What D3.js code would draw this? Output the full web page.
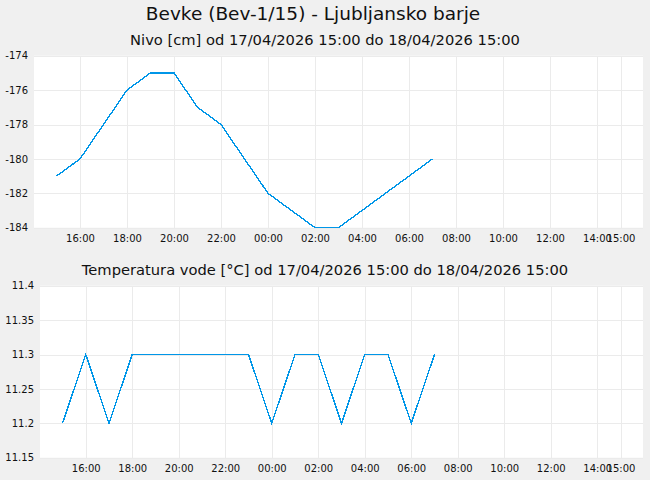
<!DOCTYPE html>
<html>
<head>
<meta charset="utf-8">
<script src="https://cdn.jsdelivr.net/npm/d3@7"></script>
<style>
  body { margin: 0; background: #f0f0f0; }
  text { font-family: "DejaVu Sans", sans-serif; fill: #111; }
</style>
</head>
<body>
<div id="chart"></div>
<script>
// hourly readings, 17/04/2026 15:00 .. 18/04/2026 07:00
const times = [
    "2026-04-17T15:00", "2026-04-17T16:00", "2026-04-17T17:00", "2026-04-17T18:00",
    "2026-04-17T19:00", "2026-04-17T20:00", "2026-04-17T21:00", "2026-04-17T22:00",
    "2026-04-17T23:00", "2026-04-18T00:00", "2026-04-18T01:00", "2026-04-18T02:00",
    "2026-04-18T03:00", "2026-04-18T04:00", "2026-04-18T05:00", "2026-04-18T06:00",
    "2026-04-18T07:00"
];
const nivo = [-181, -180, -178, -176, -175, -175, -177, -178, -180, -182, -183, -184, -184, -183, -182, -181, -180];
const temperatura = [11.2, 11.3, 11.2, 11.3, 11.3, 11.3, 11.3, 11.3, 11.3, 11.2, 11.3, 11.3, 11.2, 11.3, 11.3, 11.2, 11.3];

const xTickTimes = [
    "2026-04-17T16:00", "2026-04-17T18:00", "2026-04-17T20:00", "2026-04-17T22:00",
    "2026-04-18T00:00", "2026-04-18T02:00", "2026-04-18T04:00", "2026-04-18T06:00",
    "2026-04-18T08:00", "2026-04-18T10:00", "2026-04-18T12:00", "2026-04-18T14:00",
    "2026-04-18T15:00"
];
const nivoTicks = [-174, -176, -178, -180, -182, -184];
const nivoTickLabels = ["-174", "-176", "-178", "-180", "-182", "-184"];
const tempTicks = [11.4, 11.35, 11.3, 11.25, 11.2, 11.15];
const tempTickLabels = ["11.4", "11.35", "11.3", "11.25", "11.2", "11.15"];

const rangeStart = "2026-04-17T15:00";
const rangeEnd = "2026-04-18T15:00";

const width = 650, height = 480;
const parse = d3.timeParse("%Y-%m-%dT%H:%M");
const fmt = d3.timeFormat("%H:%M");

const svg = d3.select("#chart").append("svg")
    .attr("width", width)
    .attr("height", height);

svg.append("rect")
    .attr("width", width)
    .attr("height", height)
    .style("fill", "#f0f0f0");

svg.append("text")
    .attr("x", 313)
    .attr("y", 20)
    .attr("text-anchor", "middle")
    .style("font-size", "18.5px")
    .text("Bevke (Bev-1/15) - Ljubljansko barje");

function drawPanel(opts) {
    const { left, right, top, bottom, values, ticks, tickLabels, domain, title, titleY } = opts;

    svg.append("text")
        .attr("x", 325)
        .attr("y", titleY)
        .attr("text-anchor", "middle")
        .style("font-size", "14.7px")
        .text(title);

    const x = d3.scaleTime()
        .domain([parse(rangeStart), parse(rangeEnd)])
        .range([left + 22.5, right - 22.5]);
    const y = d3.scaleLinear()
        .domain(domain)
        .range([bottom, top]);

    const g = svg.append("g");

    g.append("rect")
        .attr("x", left)
        .attr("y", top)
        .attr("width", right - left)
        .attr("height", bottom - top)
        .style("fill", "#ffffff");

    // horizontal grid
    g.append("g")
        .attr("transform", `translate(${left},0)`)
        .call(d3.axisLeft(y)
            .tickValues(ticks)
            .tickSize(-(right - left))
            .tickPadding(6)
            .tickFormat((d, i) => tickLabels[i]))
        .call(a => a.select(".domain").remove())
        .call(a => a.selectAll("line").style("stroke", "#ebebeb").attr("shape-rendering", "crispEdges"))
        .call(a => a.selectAll("text").style("font-size", "10px").style("fill", "#111"));

    // vertical grid + time labels
    g.append("g")
        .attr("transform", `translate(0,${bottom})`)
        .call(d3.axisBottom(x)
            .tickValues(xTickTimes.map(parse))
            .tickSize(-(bottom - top))
            .tickPadding(7)
            .tickFormat(fmt))
        .call(a => a.select(".domain").remove())
        .call(a => a.selectAll("line").style("stroke", "#ebebeb").attr("shape-rendering", "crispEdges"))
        .call(a => a.selectAll("text").style("font-size", "10px").style("fill", "#111"));

    const line = d3.line()
        .x((d, i) => x(parse(times[i])))
        .y(d => y(d));

    g.append("path")
        .datum(values)
        .attr("d", line)
        .style("fill", "none")
        .style("stroke", "#0096e8")
        .style("stroke-width", 1.4)
        .attr("shape-rendering", "crispEdges");
}

drawPanel({
    left: 34, right: 643, top: 55.7, bottom: 227.7,
    values: nivo, ticks: nivoTicks, tickLabels: nivoTickLabels,
    domain: [-184, -174],
    title: "Nivo [cm] od 17/04/2026 15:00 do 18/04/2026 15:00",
    titleY: 45
});

drawPanel({
    left: 40, right: 643, top: 285.7, bottom: 457.7,
    values: temperatura, ticks: tempTicks, tickLabels: tempTickLabels,
    domain: [11.15, 11.4],
    title: "Temperatura vode [°C] od 17/04/2026 15:00 do 18/04/2026 15:00",
    titleY: 275
});
</script>
</body>
</html>
